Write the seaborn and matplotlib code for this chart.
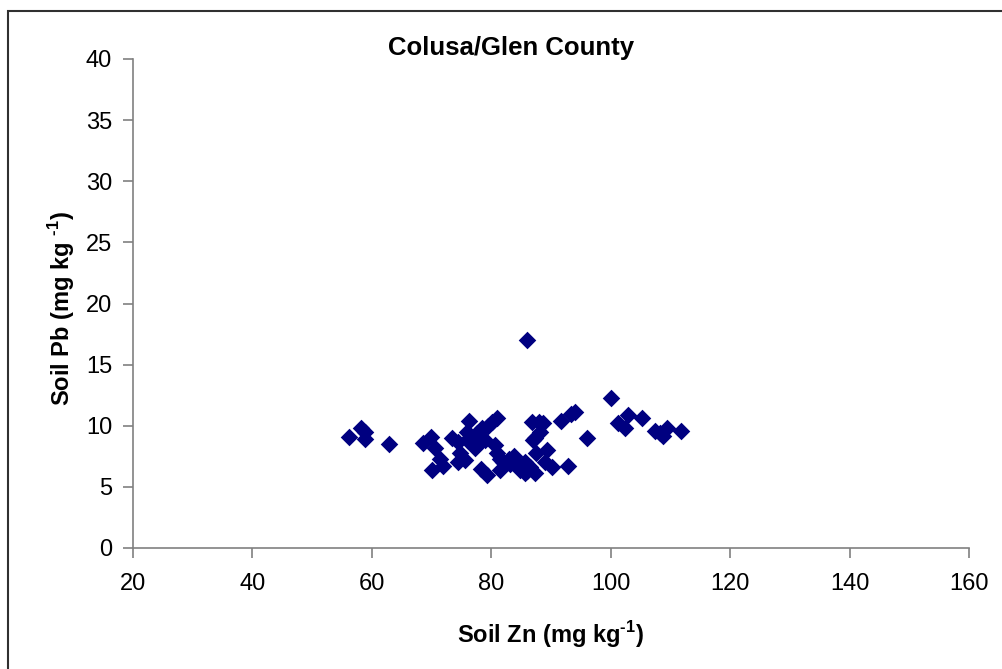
import matplotlib
matplotlib.use("Agg")
import matplotlib.pyplot as plt
import seaborn as sns
import pandas as pd
from matplotlib.patches import Rectangle

# soil Zn / Pb readings (mg/kg)
zn = [56.2, 58.2, 58.9, 58.9, 62.9, 68.6, 69.9, 70.6, 70.1, 71.9,
      71.4, 73.5, 74.4, 74.8, 74.4, 75.6, 76.2, 75.9, 77.0, 77.6,
      78.4, 79.5, 80.2, 80.9, 77.2, 78.2, 79.3, 80.6, 81.0, 81.5,
      81.5, 82.0, 83.1, 83.8, 84.5, 84.8, 85.6, 86.4, 87.3, 85.7,
      86.0, 86.0, 86.8, 88.0, 88.7, 87.3, 88.2, 87.0, 87.5, 89.4,
      89.0, 90.2, 92.9, 91.6, 93.3, 94.0, 96.0, 100.1, 101.2, 102.4,
      102.9, 105.2, 107.4, 108.3, 108.8, 109.4, 111.8, 78.0, 79.0, 76.0,
      83.0]
pb = [9.1, 9.8, 9.5, 8.9, 8.5, 8.6, 9.1, 8.2, 6.4, 6.7,
      7.3, 9.0, 8.7, 7.8, 7.0, 7.2, 10.4, 9.5, 9.1, 9.4,
      9.8, 10.0, 10.3, 10.6, 8.2, 6.5, 6.0, 8.4, 7.8, 7.3,
      6.4, 7.0, 6.9, 7.5, 6.8, 6.4, 6.1, 6.6, 6.1, 7.0,
      6.3, 17.0, 10.3, 10.3, 10.2, 9.0, 9.5, 8.8, 7.8, 8.0,
      7.0, 6.6, 6.7, 10.4, 11.0, 11.1, 9.0, 12.3, 10.2, 9.8,
      10.9, 10.6, 9.6, 9.4, 9.2, 9.8, 9.6, 8.6, 8.8, 8.8,
      7.3]

df = pd.DataFrame({"zn": zn, "pb": pb})

sns.set_style("white")
plt.rcParams['font.family'] = ['Liberation Sans', 'DejaVu Sans']
plt.rcParams['text.color'] = 'black'
plt.rcParams['mathtext.fontset'] = 'custom'
plt.rcParams['mathtext.rm'] = 'Liberation Sans:bold'
plt.rcParams['mathtext.bf'] = 'Liberation Sans:bold'

fig = plt.figure(figsize=(10.02, 6.69), dpi=100)
ax = fig.add_axes([133/1002, 1 - 548/669, (969-133)/1002, (548-59)/669])

sns.scatterplot(data=df, x="zn", y="pb", marker="D", color="#000080",
                s=80, linewidth=0, ax=ax)

ax.set_xlim(20, 160)
ax.set_ylim(0, 40)
ax.set_xticks(range(20, 161, 20))
ax.set_yticks(range(0, 41, 5))
ax.tick_params(bottom=True, left=True, direction="out", length=7, width=1.2,
               color="#808080", labelsize=17, labelcolor="black")
ax.tick_params(axis="x", pad=11)
ax.tick_params(axis="y", pad=8)
for s in ["top", "right"]:
    ax.spines[s].set_visible(False)
for s in ["left", "bottom"]:
    ax.spines[s].set_color("#808080")
    ax.spines[s].set_linewidth(1.2)

ax.set_xlabel("")
ax.set_ylabel("")
fig.text(551/1002, 1 - 635/669, r"Soil Zn (mg kg$^{\text{-}1}$)",
         ha="center", va="center", fontsize=17, fontweight="bold")
fig.text(62/1002, 1 - 308/669, r"Soil Pb (mg kg $^{\text{-}1}$)",
         ha="center", va="center", fontsize=17, fontweight="bold",
         rotation=90)
fig.text(511/1002, 1 - 48/669, "Colusa/Glen County",
         ha="center", va="center", fontsize=18.5, fontweight="bold")

# outer chart frame
fig.add_artist(Rectangle((8/1002, -0.05), 1.2, 1.05 - 11/669,
                         transform=fig.transFigure, fill=False,
                         edgecolor="#303030", linewidth=1.5))

fig.savefig("out.png", dpi=100)
